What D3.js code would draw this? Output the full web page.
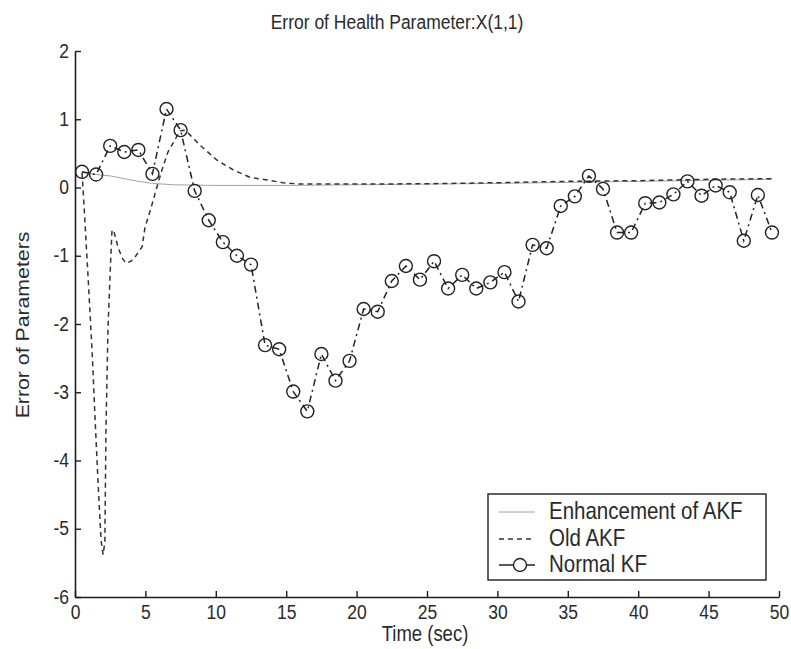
<!DOCTYPE html>
<html><head><meta charset="utf-8">
<script src="https://cdn.jsdelivr.net/npm/d3@7/dist/d3.min.js"></script>
<style>
html,body{margin:0;padding:0;background:#fff;}
svg{display:block;font-family:"Liberation Sans",Arial,Helvetica,sans-serif;}
</style></head><body>
<svg id="chart" width="791" height="649"></svg>
<script>
// Normal KF estimate error, one sample per second
const kfTime = [0.5,1.5,2.5,3.5,4.5,5.5,6.5,7.5,8.5,9.5,
  10.5,11.5,12.5,13.5,14.5,15.5,16.5,17.5,18.5,19.5,
  20.5,21.5,22.5,23.5,24.5,25.5,26.5,27.5,28.5,29.5,
  30.5,31.5,32.5,33.5,34.5,35.5,36.5,37.5,38.5,39.5,
  40.5,41.5,42.5,43.5,44.5,45.5,46.5,47.5,48.5,49.5];
const kfError = [0.23,0.19,0.61,0.52,0.55,0.20,1.15,0.84,-0.05,-0.48,
  -0.80,-1.00,-1.13,-2.31,-2.37,-2.99,-3.28,-2.44,-2.83,-2.54,
  -1.78,-1.82,-1.37,-1.15,-1.35,-1.08,-1.48,-1.28,-1.48,-1.39,
  -1.24,-1.67,-0.84,-0.89,-0.27,-0.13,0.17,-0.02,-0.66,-0.66,
  -0.23,-0.22,-0.10,0.09,-0.12,0.03,-0.07,-0.78,-0.11,-0.66];

// Old adaptive KF error
const oldTime = [0.5,0.64,0.92,1.21,1.42,1.63,1.85,1.99,2.12,2.2,2.34,2.49,2.63,2.77,
  3.05,3.34,3.62,3.98,4.26,4.76,4.97,5.4,5.75,6.18,6.6,7.1,7.46,7.74,
  8.03,8.88,10.09,11.22,12.43,13.64,14.77,16,20,25,30,35,40,45,49.5];
const oldError = [0.22,-0.26,-1.28,-2.38,-3.36,-4.29,-5.16,-5.38,-5.2,-3.55,-2.09,-1.28,-0.62,-0.65,
  -0.87,-1.03,-1.11,-1.08,-1.02,-0.87,-0.59,-0.30,-0.04,0.26,0.52,0.70,0.83,0.84,
  0.80,0.62,0.40,0.26,0.15,0.11,0.07,0.05,0.05,0.055,0.07,0.09,0.10,0.12,0.13];

// Enhanced adaptive KF error
const enhTime = [0.5,1.5,2.5,3.5,4.5,5.5,7,10,15,20,30,40,49.5];
const enhError = [0.22,0.19,0.17,0.13,0.09,0.06,0.04,0.03,0.03,0.04,0.06,0.09,0.12];

const xTicks = [0,5,10,15,20,25,30,35,40,45,50];
const yTicks = [-6,-5,-4,-3,-2,-1,0,1,2];
const legendLabels = ["Enhancement of AKF","Old AKF","Normal KF"];
const titleText = "Error of Health Parameter:X(1,1)";
const xLabel = "Time (sec)";
const yLabel = "Error of Parameters";

const svg = d3.select("#chart");
const ink = "#1e1e1e";
const stretch = "scale(1,1.15)";

const x = d3.scaleLinear().domain([0, 50]).range([75, 779]);
const y = d3.scaleLinear().domain([-6, 2]).range([597, 51]);

// axes with inward ticks
const yAxis = d3.axisLeft(y).tickValues(yTicks).tickFormat(d3.format("d"))
  .tickSizeInner(-6).tickSizeOuter(0).tickPadding(6);
const xAxis = d3.axisBottom(x).tickValues(xTicks).tickFormat(d3.format("d"))
  .tickSizeInner(-6).tickSizeOuter(0).tickPadding(9);

const gy = svg.append("g").attr("transform", "translate(75,0)").call(yAxis);
const gx = svg.append("g").attr("transform", "translate(0,597)").call(xAxis);
[gy, gx].forEach(g => {
  g.select(".domain").attr("stroke", ink).attr("stroke-width", 1.6);
  g.selectAll(".tick line").attr("stroke", ink).attr("stroke-width", 1.4);
  g.selectAll(".tick text").attr("fill", "#2a2a2a").attr("font-size", 17.5)
    .attr("font-family", "Liberation Sans, Arial, sans-serif");
});
gy.selectAll(".tick text").attr("transform", stretch).attr("dy", "0.3em")
  .text(d => d < 0 ? "-" + Math.abs(d) : d);
gx.selectAll(".tick text").attr("transform", stretch).attr("dy", "0.6em");

// lines
const line = d3.line().x(d => x(d[0])).y(d => y(d[1]));
const enhPts = enhTime.map((t, i) => [t, enhError[i]]);
const oldPts = oldTime.map((t, i) => [t, oldError[i]]);
const kfPts = kfTime.map((t, i) => [t, kfError[i]]);

svg.append("path").attr("d", line(enhPts)).attr("fill", "none")
  .attr("stroke", "#9a9a9a").attr("stroke-width", 0.9);
svg.append("path").attr("d", line(oldPts)).attr("fill", "none")
  .attr("stroke", "#333").attr("stroke-width", 1.5).attr("stroke-dasharray", "5,4");
svg.append("path").attr("d", line(kfPts)).attr("fill", "none")
  .attr("stroke", "#222").attr("stroke-width", 1.5).attr("stroke-dasharray", "7,4,2,4");
svg.append("g").selectAll("circle").data(kfPts).join("circle")
  .attr("cx", d => x(d[0])).attr("cy", d => y(d[1])).attr("r", 6.5)
  .attr("fill", "none").attr("stroke", "#222").attr("stroke-width", 1.4);

// title and axis labels
svg.append("text").attr("transform", "translate(397,29) " + stretch)
  .attr("text-anchor", "middle").attr("font-size", 17.5).attr("fill", "#2a2a2a").text(titleText);
svg.append("text").attr("transform", "translate(425,641) " + stretch)
  .attr("text-anchor", "middle").attr("font-size", 18.5).attr("fill", "#2a2a2a").text(xLabel);
svg.append("text").attr("transform", "translate(29,325) rotate(-90) scale(1.15,1)")
  .attr("text-anchor", "middle").attr("font-size", 18.5).attr("fill", "#2a2a2a").text(yLabel);

// legend
const lg = svg.append("g");
lg.append("rect").attr("x", 488).attr("y", 494).attr("width", 278).attr("height", 86)
  .attr("fill", "#fff").attr("stroke", ink).attr("stroke-width", 1.4);
const rowY = [512, 539, 565];
lg.append("line").attr("x1", 499).attr("x2", 535).attr("y1", rowY[0]).attr("y2", rowY[0])
  .attr("stroke", "#9a9a9a").attr("stroke-width", 0.9);
lg.append("line").attr("x1", 499).attr("x2", 535).attr("y1", rowY[1]).attr("y2", rowY[1])
  .attr("stroke", "#333").attr("stroke-width", 1.5).attr("stroke-dasharray", "5,4");
lg.append("line").attr("x1", 499).attr("x2", 535).attr("y1", rowY[2]).attr("y2", rowY[2])
  .attr("stroke", "#222").attr("stroke-width", 1.5);
lg.append("circle").attr("cx", 520).attr("cy", rowY[2]).attr("r", 6.5)
  .attr("fill", "#fff").attr("stroke", "#222").attr("stroke-width", 1.4);
lg.selectAll("text.lab").data(legendLabels).join("text").attr("class", "lab")
  .attr("transform", (d, i) => `translate(549,${rowY[i] + 7}) ${stretch}`)
  .attr("font-size", 20.5).attr("fill", "#2a2a2a").text(d => d);
</script>
</body></html>
